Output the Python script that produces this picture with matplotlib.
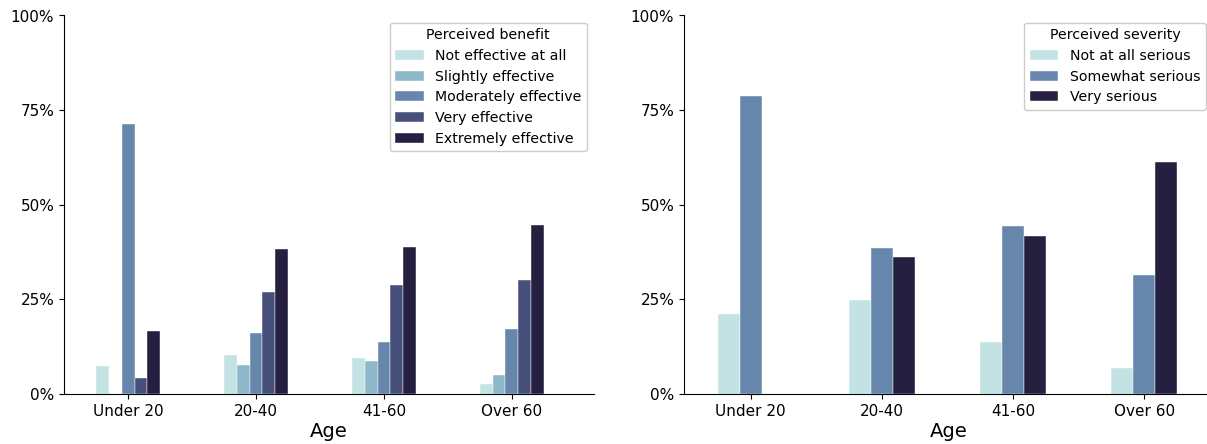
import numpy as np
import matplotlib
matplotlib.use("Agg")
import matplotlib.pyplot as plt
from matplotlib.ticker import PercentFormatter

# Survey responses by age group (share of respondents)
age_groups = ["Under 20", "20-40", "41-60", "Over 60"]

benefit_levels = ["Not effective at all", "Slightly effective",
                  "Moderately effective", "Very effective", "Extremely effective"]
not_effective = [7.5, 10.2, 9.5, 2.7]
slightly_effective = [0.0, 7.7, 8.7, 5.0]
moderately_effective = [71.3, 16.2, 13.8, 17.1]
very_effective = [4.2, 27.0, 28.8, 30.0]
extremely_effective = [16.7, 38.4, 38.8, 44.7]

severity_levels = ["Not at all serious", "Somewhat serious", "Very serious"]
not_serious = [21.1, 24.9, 13.8, 7.0]
somewhat_serious = [78.8, 38.6, 44.4, 31.5]
very_serious = [0.0, 36.2, 41.7, 61.3]

benefit_colors = ["#c3e2e3", "#8db8ca", "#6686ab", "#47507a", "#262040"]
severity_colors = ["#c3e2e3", "#6686ab", "#262040"]

W, H = 1207, 444
fig = plt.figure(figsize=(W / 100, H / 100), dpi=100)


def px_axes(x0, x1, y_top, y_bot):
    return fig.add_axes([x0 / W, 1 - y_bot / H, (x1 - x0) / W, (y_bot - y_top) / H])


def grouped_bars(ax, series, labels, colors, xlim, title):
    n = len(series)
    group_w = 0.5
    bw = group_w / n
    x = np.arange(len(age_groups))
    for i, (vals, lab, col) in enumerate(zip(series, labels, colors)):
        offs = -group_w / 2 + bw * (i + 0.5)
        ax.bar(x + offs, vals, width=bw, color=col, label=lab,
               edgecolor="white", linewidth=0.3)
    ax.set_xticks(x)
    ax.set_xticklabels(age_groups, fontsize=11)
    ax.set_xlim(*xlim)
    ax.set_ylim(0, 100)
    ax.set_yticks([0, 25, 50, 75, 100])
    ax.yaxis.set_major_formatter(PercentFormatter(decimals=0))
    ax.tick_params(axis="y", labelsize=11)
    ax.spines["top"].set_visible(False)
    ax.spines["right"].set_visible(False)
    ax.set_xlabel("Age", fontsize=14, labelpad=2)
    leg = ax.legend(title=title, loc="upper right", fontsize=10.2,
                    title_fontsize=10.2, framealpha=1, labelspacing=0.47)
    leg.get_frame().set_edgecolor("#cccccc")


ax1 = px_axes(64, 594, 15.5, 394)
grouped_bars(ax1,
             [not_effective, slightly_effective, moderately_effective,
              very_effective, extremely_effective],
             benefit_levels, benefit_colors, (-0.502, 3.643), "Perceived benefit")

ax2 = px_axes(684, 1213, 15.5, 394)
grouped_bars(ax2, [not_serious, somewhat_serious, very_serious],
             severity_levels, severity_colors, (-0.508, 3.524), "Perceived severity")

fig.savefig("out.png", dpi=100)
